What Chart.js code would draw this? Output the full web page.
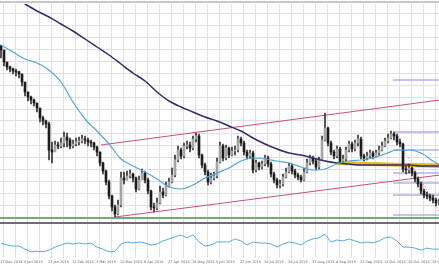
<!DOCTYPE html>
<html>
<head>
<meta charset="utf-8">
<script src="https://cdn.jsdelivr.net/npm/chart.js@4.4.0/dist/chart.umd.min.js"></script>
<style>
  html, body { margin: 0; padding: 0; background: #fff; }
  canvas { display: block; }
</style>
</head>
<body>
<canvas id="chart" width="439" height="268"></canvas>
<script>
// EUR/USD D1, déc. 2014 -> nov. 2015 (valeurs estimées sur l'image)
const tickLabels = ['17 Dec 2014', '5 Jan 2015', '23 Jan 2015', '12 Feb 2015', '3 Mar 2015', '20 Mar 2015',
  '8 Apr 2015', '27 Apr 2015', '18 May 2015', '5 Jun 2015', '22 Jun 2015', '10 Jul 2015', '29 Jul 2015',
  '17 Aug 2015', '4 Sep 2015', '23 Sep 2015', '12 Oct 2015', '30 Oct 2015', '18 Nov 2015'];

const firstOpen = 1.244;
const closes = [1.240, 1.228, 1.223, 1.221, 1.219, 1.218, 1.216, 1.208, 1.198, 1.193,
  1.190, 1.187, 1.182, 1.172, 1.169, 1.166, 1.140, 1.138, 1.145, 1.144,
  1.147, 1.153, 1.150, 1.144, 1.146, 1.148, 1.149, 1.151, 1.150, 1.148,
  1.147, 1.143, 1.138, 1.127, 1.119, 1.108, 1.094, 1.083, 1.076, 1.085,
  1.112, 1.110, 1.114, 1.116, 1.112, 1.101, 1.110, 1.117, 1.110, 1.099,
  1.083, 1.082, 1.087, 1.098, 1.095, 1.104, 1.108, 1.115, 1.130, 1.140,
  1.134, 1.144, 1.145, 1.142, 1.151, 1.154, 1.135, 1.125, 1.118, 1.108,
  1.112, 1.114, 1.128, 1.144, 1.132, 1.142, 1.135, 1.139, 1.140, 1.151,
  1.147, 1.138, 1.134, 1.137, 1.120, 1.127, 1.123, 1.126, 1.132, 1.126,
  1.116, 1.110, 1.105, 1.106, 1.113, 1.118, 1.124, 1.119, 1.115, 1.113,
  1.110, 1.118, 1.127, 1.132, 1.129, 1.123, 1.130, 1.150, 1.162, 1.147,
  1.138, 1.134, 1.141, 1.129, 1.131, 1.140, 1.146, 1.141, 1.147, 1.151,
  1.134, 1.132, 1.134, 1.137, 1.134, 1.137, 1.140, 1.144, 1.149, 1.152,
  1.156, 1.154, 1.148, 1.146, 1.121, 1.120, 1.122, 1.117, 1.111, 1.106,
  1.099, 1.095, 1.094, 1.092, 1.090, 1.087, 1.088];
const highs = [1.245, 1.232, 1.226, 1.224, 1.222, 1.221, 1.219, 1.216, 1.205, 1.198,
  1.194, 1.191, 1.187, 1.180, 1.174, 1.170, 1.168, 1.148, 1.149, 1.148,
  1.152, 1.158, 1.157, 1.152, 1.150, 1.152, 1.153, 1.155, 1.154, 1.152,
  1.150, 1.148, 1.144, 1.138, 1.128, 1.120, 1.110, 1.095, 1.085, 1.090,
  1.118, 1.118, 1.119, 1.120, 1.117, 1.113, 1.114, 1.121, 1.119, 1.112,
  1.100, 1.087, 1.092, 1.104, 1.102, 1.108, 1.112, 1.122, 1.135, 1.144,
  1.142, 1.147, 1.149, 1.148, 1.154, 1.157, 1.156, 1.136, 1.127, 1.120,
  1.117, 1.118, 1.132, 1.148, 1.146, 1.145, 1.143, 1.143, 1.144, 1.154,
  1.153, 1.149, 1.140, 1.140, 1.139, 1.130, 1.128, 1.129, 1.135, 1.134,
  1.128, 1.118, 1.112, 1.110, 1.116, 1.122, 1.127, 1.126, 1.121, 1.117,
  1.115, 1.122, 1.131, 1.135, 1.134, 1.131, 1.133, 1.154, 1.177, 1.163,
  1.149, 1.140, 1.144, 1.143, 1.135, 1.143, 1.149, 1.148, 1.150, 1.155,
  1.153, 1.136, 1.138, 1.140, 1.139, 1.140, 1.144, 1.148, 1.152, 1.156,
  1.159, 1.158, 1.156, 1.151, 1.147, 1.124, 1.126, 1.123, 1.119, 1.113,
  1.108, 1.101, 1.098, 1.096, 1.095, 1.092, 1.091];
const lows = [1.232, 1.224, 1.220, 1.218, 1.216, 1.214, 1.212, 1.204, 1.194, 1.189,
  1.186, 1.184, 1.178, 1.168, 1.165, 1.162, 1.130, 1.127, 1.140, 1.141,
  1.142, 1.143, 1.143, 1.141, 1.142, 1.144, 1.145, 1.147, 1.146, 1.144,
  1.143, 1.140, 1.134, 1.124, 1.116, 1.105, 1.091, 1.079, 1.073, 1.075,
  1.083, 1.106, 1.110, 1.112, 1.108, 1.098, 1.100, 1.113, 1.107, 1.096,
  1.080, 1.078, 1.080, 1.086, 1.092, 1.094, 1.103, 1.107, 1.113, 1.128,
  1.131, 1.132, 1.141, 1.138, 1.140, 1.148, 1.132, 1.122, 1.115, 1.105,
  1.106, 1.110, 1.112, 1.127, 1.129, 1.130, 1.132, 1.134, 1.135, 1.138,
  1.144, 1.135, 1.131, 1.132, 1.117, 1.118, 1.120, 1.121, 1.124, 1.123,
  1.113, 1.107, 1.102, 1.102, 1.104, 1.112, 1.117, 1.116, 1.112, 1.110,
  1.108, 1.109, 1.117, 1.125, 1.126, 1.120, 1.121, 1.130, 1.149, 1.144,
  1.135, 1.131, 1.132, 1.126, 1.127, 1.129, 1.138, 1.138, 1.139, 1.144,
  1.131, 1.129, 1.130, 1.132, 1.131, 1.133, 1.135, 1.139, 1.143, 1.147,
  1.151, 1.150, 1.145, 1.143, 1.118, 1.116, 1.117, 1.114, 1.108, 1.103,
  1.096, 1.092, 1.091, 1.089, 1.087, 1.084, 1.085];

// moyennes mobiles, une valeur toutes les 4 barres
const ma200 = [1.299, 1.292, 1.286, 1.279, 1.273, 1.266, 1.259, 1.251, 1.243, 1.235,
  1.226, 1.217, 1.209, 1.198, 1.189, 1.183, 1.178, 1.173, 1.169, 1.164,
  1.159, 1.152, 1.146, 1.141, 1.137, 1.135, 1.132, 1.129, 1.127, 1.126,
  1.125, 1.125, 1.125, 1.125, 1.125, 1.124, 1.124, 1.124];
const ma50 = [1.245, 1.238, 1.231, 1.227, 1.220, 1.208, 1.188, 1.171, 1.159, 1.146,
  1.131, 1.124, 1.118, 1.111, 1.103, 1.101, 1.105, 1.112, 1.117, 1.122,
  1.129, 1.132, 1.131, 1.129, 1.127, 1.123, 1.120, 1.121, 1.126, 1.129,
  1.130, 1.132, 1.136, 1.140, 1.140, 1.137, 1.129, 1.125];

// oscillateur (RSI), une valeur toutes les 2 barres
const rsi = [50, 44, 41, 41, 32, 24, 26, 24, 29, 38, 44, 50, 47, 50, 47, 50, 38, 32, 24, 26,
  47, 53, 50, 53, 50, 44, 47, 56, 62, 68, 74, 65, 74, 53, 41, 44, 53, 53, 53, 62,
  56, 44, 53, 50, 50, 47, 38, 47, 53, 50, 44, 56, 62, 65, 76, 53, 59, 56, 62, 56,
  50, 53, 50, 56, 65, 68, 56, 38, 38, 35, 29, 35, 32, 32];

// objets dessinés : [barre, prix]
const channelTop = [[33.3, 1.145], [146.3, 1.190]];
const channelBottom = [[38, 1.073], [146.3, 1.115]];
const yellowLine = [[112.3, 1.127], [146.3, 1.124]];
const supportLevel = 1.072;
const fibStartBar = 130.7;
const fibLevels = [1.075, 1.095, 1.107, 1.117, 1.126, 1.140, 1.158, 1.210];
const fibDiagonal = [[130.7, 1.158], [146.3, 1.077]];

const lastBar = 146.3;

const opens = closes.map((c, i) => i === 0 ? firstOpen : closes[i - 1]);
const wicks = closes.map((c, i) => ({x: i, y: [lows[i], highs[i]]}));
const bodies = closes.map((c, i) => ({x: i, y: [opens[i], c]}));
const bodyColors = closes.map((c, i) => c >= opens[i] ? '#a4a4a4' : '#1c1c1c');
const ma200Pts = ma200.map((v, k) => ({x: Math.min(k * 4, 146), y: v}));
const ma50Pts = ma50.map((v, k) => ({x: Math.min(k * 4, 146), y: v}));
const rsiPts = rsi.map((v, k) => ({x: k * 2, y: v}));
const toPts = seg => seg.map(p => ({x: p[0], y: p[1]}));

const lineDs = (data, color, width, order, extra) => Object.assign({
  type: 'line', data: data, borderColor: color, borderWidth: width,
  pointRadius: 0, fill: false, order: order
}, extra || {});

const datasets = [
  ...fibLevels.map(v => lineDs([{x: fibStartBar, y: v}, {x: lastBar, y: v}], '#8c8ce8', 1, 20)),
  lineDs(toPts(fibDiagonal), '#e08080', 1, 19, {borderDash: [1, 2]}),
  lineDs([{x: -1, y: supportLevel}, {x: lastBar, y: supportLevel}], '#3f9a55', 1.5, 18),
  lineDs(toPts(channelTop), '#cc4f77', 1, 17),
  lineDs(toPts(channelBottom), '#cc4f77', 1, 17),
  lineDs(toPts(yellowLine), '#efb91e', 4, 16),
  {type: 'bar', data: wicks, backgroundColor: '#333', barThickness: 1, grouped: false, order: 12},
  {type: 'bar', data: bodies, backgroundColor: bodyColors, barThickness: 2, grouped: false, order: 11},
  lineDs(ma200Pts, '#2e2e6e', 1.5, 5, {cubicInterpolationMode: 'monotone'}),
  lineDs(ma50Pts, '#4ea6dd', 1.2, 4, {cubicInterpolationMode: 'monotone'}),
  lineDs(rsiPts, '#5aa8e0', 1, 3, {yAxisID: 'y2'})
];

const cadre = {
  id: 'cadre',
  afterDraw(chart) {
    const ctx = chart.ctx;
    ctx.save();
    ctx.fillStyle = '#c6c6c6';
    ctx.fillRect(0, 1, chart.width, 2);
    ctx.fillStyle = '#6e6e6e';
    ctx.fillRect(0, 222, chart.width, 2);
    ctx.restore();
  }
};

new Chart(document.getElementById('chart'), {
  type: 'bar',
  data: {datasets: datasets},
  plugins: [cadre],
  options: {
    responsive: false,
    animation: false,
    devicePixelRatio: 1,
    layout: {padding: {top: 4, left: 0, right: 0, bottom: 0}, autoPadding: false},
    plugins: {legend: {display: false}, tooltip: {enabled: false}},
    scales: {
      x: {
        type: 'linear', offset: false, min: -0.3333, max: 146.0,
        grid: {color: '#dfdfe6', drawTicks: false, offset: false},
        border: {display: false},
        afterBuildTicks: s => { s.ticks = []; for (let k = 0; k <= 36; k++) s.ticks.push({value: 4 * k + 0.6667}); },
        afterFit: s => { s.height = 10; s.paddingLeft = 0; s.paddingRight = 0; },
        ticks: {
          autoSkip: false, maxRotation: 0, align: 'start', padding: 2, labelOffset: -3,
          color: '#666', font: {family: 'DejaVu Sans', size: 3.5},
          callback: (v, i) => (i % 2 === 0) ? tickLabels[i / 2] : ''
        }
      },
      y: {
        type: 'linear', position: 'left', min: 1.032, max: 1.286,
        grid: {color: '#dfdfe6', drawTicks: false},
        border: {display: false},
        ticks: {display: false},
        afterBuildTicks: s => { s.ticks = []; for (let k = 0; k <= 18; k++) s.ticks.push({value: 1.289 - 0.012 * k}); },
        afterFit: s => { s.width = 0; }
      },
      y2: {
        type: 'linear', position: 'right', min: 5.88, max: 752.94, display: false
      }
    }
  }
});
</script>
</body>
</html>
